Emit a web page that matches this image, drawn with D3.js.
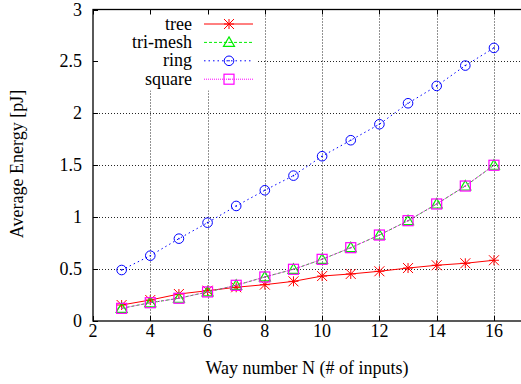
<!DOCTYPE html>
<html lang="en">
<head>
<meta charset="UTF-8">
<title>Average Energy vs Way number</title>
<script src="https://cdn.jsdelivr.net/npm/d3@7"></script>
<style>
    body { margin: 0; background: #fff; }
    svg { display: block; }
    svg text { font-family: "Liberation Serif", "Times New Roman", "DejaVu Serif", serif; }
</style>
</head>
<body>
<svg id="chart" width="521" height="384"></svg>
<script>
    // data
    const ways = [3, 4, 5, 6, 7, 8, 9, 10, 11, 12, 13, 14, 15, 16];
    const tree = [0.154, 0.202, 0.26, 0.292, 0.325, 0.35, 0.382, 0.433, 0.453, 0.479, 0.51, 0.537, 0.556, 0.585];
    const triMesh = [0.122, 0.176, 0.219, 0.28, 0.344, 0.424, 0.498, 0.594, 0.706, 0.828, 0.966, 1.127, 1.30, 1.50];
    const ring = [0.491, 0.629, 0.793, 0.947, 1.108, 1.259, 1.40, 1.587, 1.741, 1.895, 2.097, 2.264, 2.46, 2.63];
    const square = [0.122, 0.176, 0.219, 0.28, 0.344, 0.424, 0.498, 0.594, 0.706, 0.828, 0.966, 1.127, 1.30, 1.50];
    const xTicks = [2, 4, 6, 8, 10, 12, 14, 16];
    const yTicks = [0, 0.5, 1, 1.5, 2, 2.5, 3];

    const series = [
        { name: "tree", values: tree, color: "#ff0000", dash: null, marker: "star" },
        { name: "tri-mesh", values: triMesh, color: "#00ee00", dash: "3,2", marker: "triangle" },
        { name: "ring", values: ring, color: "#0000ff", dash: "1.5,3", marker: "circle" },
        { name: "square", values: square, color: "#ff00ff", dash: "1,1", marker: "square" }
    ];

    const svg = d3.select("#chart");
    const plotLeft = 93, plotTop = 9.5, plotBottom = 321;
    const fontSize = 18;
    const serifFont = "Liberation Serif, Times New Roman, DejaVu Serif, serif";

    const x = d3.scaleLinear().domain([2, 17]).range([plotLeft, 522.6]);
    const y = d3.scaleLinear().domain([0, 3]).range([plotBottom, plotTop]);
    const plotRight = x(17);

    // grid
    const grid = svg.append("g").attr("stroke", "#000").attr("stroke-width", 1)
        .attr("stroke-dasharray", "1,2").attr("opacity", 0.85);
    grid.selectAll(".gx").data(xTicks.slice(1)).enter().append("line")
        .attr("x1", d => Math.round(x(d)) + 0.5).attr("x2", d => Math.round(x(d)) + 0.5)
        .attr("y1", plotTop).attr("y2", plotBottom);
    grid.selectAll(".gy").data(yTicks.slice(1, -1)).enter().append("line")
        .attr("y1", d => Math.round(y(d)) + 0.5).attr("y2", d => Math.round(y(d)) + 0.5)
        .attr("x1", plotLeft).attr("x2", plotRight);

    // legend box hides the grid beneath it
    svg.append("rect").attr("x", plotLeft + 1).attr("y", plotTop + 1)
        .attr("width", 164).attr("height", 80).attr("fill", "#fff");

    // tick marks, mirrored
    const ticks = svg.append("g").attr("stroke", "#000").attr("stroke-width", 1);
    xTicks.forEach(t => {
        const px = Math.round(x(t)) + 0.5;
        ticks.append("line").attr("x1", px).attr("x2", px).attr("y1", plotBottom).attr("y2", plotBottom - 5);
        ticks.append("line").attr("x1", px).attr("x2", px).attr("y1", plotTop).attr("y2", plotTop + 5);
    });
    yTicks.forEach(t => {
        const py = Math.round(y(t)) + 0.5;
        ticks.append("line").attr("x1", plotLeft).attr("x2", plotLeft + 5).attr("y1", py).attr("y2", py);
    });

    // tick labels
    svg.append("g").selectAll("text").data(xTicks).enter().append("text")
        .attr("x", d => x(d)).attr("y", 337).attr("text-anchor", "middle")
        .attr("font-family", serifFont).attr("font-size", fontSize).text(d => d);
    svg.append("g").selectAll("text").data(yTicks).enter().append("text")
        .attr("x", 82).attr("y", d => y(d) + 6).attr("text-anchor", "end")
        .attr("font-family", serifFont).attr("font-size", fontSize).text(d => d);

    // axis titles
    svg.append("text").attr("x", 307).attr("y", 374).attr("text-anchor", "middle")
        .attr("font-family", serifFont).attr("font-size", fontSize).text("Way number N (# of inputs)");
    svg.append("text").attr("transform", "translate(23,164) rotate(-90)")
        .attr("text-anchor", "middle").attr("font-family", serifFont).attr("font-size", fontSize)
        .text("Average Energy [pJ]");

    function drawMarker(g, kind, cx, cy, color) {
        const s = 5;
        if (kind === "star") {
            g.append("path").attr("stroke", color).attr("fill", "none").attr("stroke-width", 1)
                .attr("d", `M${cx - s},${cy}H${cx + s}M${cx},${cy - s}V${cy + s}` +
                    `M${cx - s},${cy - s}L${cx + s},${cy + s}M${cx - s},${cy + s}L${cx + s},${cy - s}`);
        } else if (kind === "triangle") {
            g.append("path").attr("stroke", color).attr("fill", "none").attr("stroke-width", 1.2)
                .attr("d", `M${cx},${cy - 5.5}L${cx + 5.5},${cy + 4}L${cx - 5.5},${cy + 4}Z`);
            g.append("circle").attr("cx", cx).attr("cy", cy).attr("r", 0.7).attr("fill", color);
        } else if (kind === "circle") {
            g.append("circle").attr("cx", cx).attr("cy", cy).attr("r", 4.8)
                .attr("stroke", color).attr("fill", "none").attr("stroke-width", 1);
            g.append("circle").attr("cx", cx).attr("cy", cy).attr("r", 0.8).attr("fill", color);
        } else {
            g.append("rect").attr("x", cx - 5).attr("y", cy - 5).attr("width", 10).attr("height", 10)
                .attr("stroke", color).attr("fill", "none").attr("stroke-width", 1.2);
            g.append("circle").attr("cx", cx).attr("cy", cy).attr("r", 0.7).attr("fill", color);
        }
    }

    const line = d3.line().x((d, i) => x(ways[i])).y(d => y(d));

    // series
    series.forEach(s => {
        const g = svg.append("g");
        g.append("path").datum(s.values).attr("d", line)
            .attr("fill", "none").attr("stroke", s.color).attr("stroke-width", 1)
            .attr("stroke-dasharray", s.dash);
        s.values.forEach((v, i) => drawMarker(g, s.marker, x(ways[i]), y(v), s.color));
    });

    // legend
    const legend = svg.append("g");
    series.forEach((s, i) => {
        const ly = 24 + i * 18.4;
        legend.append("text").attr("x", 192).attr("y", ly + 5.5).attr("text-anchor", "end")
            .attr("font-family", serifFont).attr("font-size", fontSize).text(s.name);
        legend.append("line").attr("x1", 204).attr("x2", 253).attr("y1", ly).attr("y2", ly)
            .attr("stroke", s.color).attr("stroke-width", 1).attr("stroke-dasharray", s.dash);
        drawMarker(legend, s.marker, 229, ly, s.color);
    });

    // frame
    svg.append("rect").attr("x", plotLeft).attr("y", plotTop)
        .attr("width", plotRight - plotLeft).attr("height", plotBottom - plotTop)
        .attr("fill", "none").attr("stroke", "#000").attr("stroke-width", 1.3);
</script>
</body>
</html>
